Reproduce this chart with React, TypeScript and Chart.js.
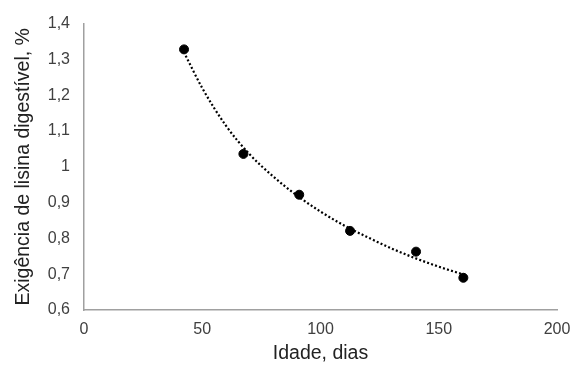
import React, { useEffect, useRef } from "react";
import { Chart, registerables } from "chart.js";

Chart.register(...registerables);

const idade = [42.3, 67.4, 91, 112.5, 140.4, 160.4];
const exigencia = [1.328, 1.036, 0.922, 0.821, 0.763, 0.69];

const trendX = [43, 50, 60, 70, 80, 90, 100, 110, 120, 130, 140, 150, 161];
const trendY = [1.31, 1.22, 1.115, 1.035, 0.973, 0.92, 0.875, 0.836, 0.803, 0.772, 0.745, 0.721, 0.698];

const xTitle = "Idade, dias";
const yTitle = "Exigência de lisina digestível, %";

export default function App() {
  const ref = useRef<HTMLCanvasElement | null>(null);
  useEffect(() => {
    document.body.style.margin = "0";
    const ctx = ref.current!;
    const chart = new Chart(ctx, {
      type: "scatter",
      data: {
        datasets: [
          {
            label: "trend",
            data: trendX.map((x, i) => ({ x, y: trendY[i] })),
            showLine: true,
            borderColor: "#000",
            borderWidth: 2.2,
            borderDash: [2, 2.2],
            pointRadius: 0,
            tension: 0.4,
            cubicInterpolationMode: "monotone",
          },
          {
            label: "dados",
            data: idade.map((x, i) => ({ x, y: exigencia[i] })),
            backgroundColor: "#000",
            borderColor: "#000",
            pointRadius: 4.5,
            showLine: false,
          },
        ],
      },
      options: {
        animation: false,
        responsive: false,
        maintainAspectRatio: false,
        layout: { padding: { top: 20, right: 0, left: 0, bottom: 0 } },
        plugins: { legend: { display: false }, tooltip: { enabled: false } },
        scales: {
          x: {
            type: "linear",
            min: 0,
            max: 200,
            ticks: {
              stepSize: 50,
              color: "#404040",
              font: { family: "Liberation Sans, Arial", size: 16 },
              padding: 10,
            },
            grid: { display: false, drawTicks: false },
            border: { display: true, color: "#a0a0a0", width: 1.5 },
            title: {
              display: true,
              text: xTitle,
              color: "#222",
              font: { family: "Liberation Sans, Arial", size: 19.5 },
              padding: { top: 2, bottom: 0 },
            },
            afterFit: (s: any) => {
              s.height = 55;
              s.paddingRight = 14;
              s.paddingLeft = 0;
            },
          },
          y: {
            type: "linear",
            min: 0.6,
            max: 1.4,
            ticks: {
              stepSize: 0.1,
              color: "#404040",
              font: { family: "Liberation Sans, Arial", size: 16 },
              padding: 14,
              callback: (v: any) => String(+Number(v).toFixed(1)).replace(".", ","),
            },
            grid: { display: false, drawTicks: false },
            border: { display: true, color: "#a0a0a0", width: 1.5 },
            title: {
              display: true,
              text: yTitle,
              color: "#222",
              font: { family: "Liberation Sans, Arial", size: 19.5 },
              padding: { top: 12, bottom: 0 },
            },
            afterFit: (s: any) => {
              s.width = 84;
            },
          },
        },
      },
    });
    return () => chart.destroy();
  }, []);
  return <canvas ref={ref} width={571} height={365} style={{ display: "block" }} />;
}
